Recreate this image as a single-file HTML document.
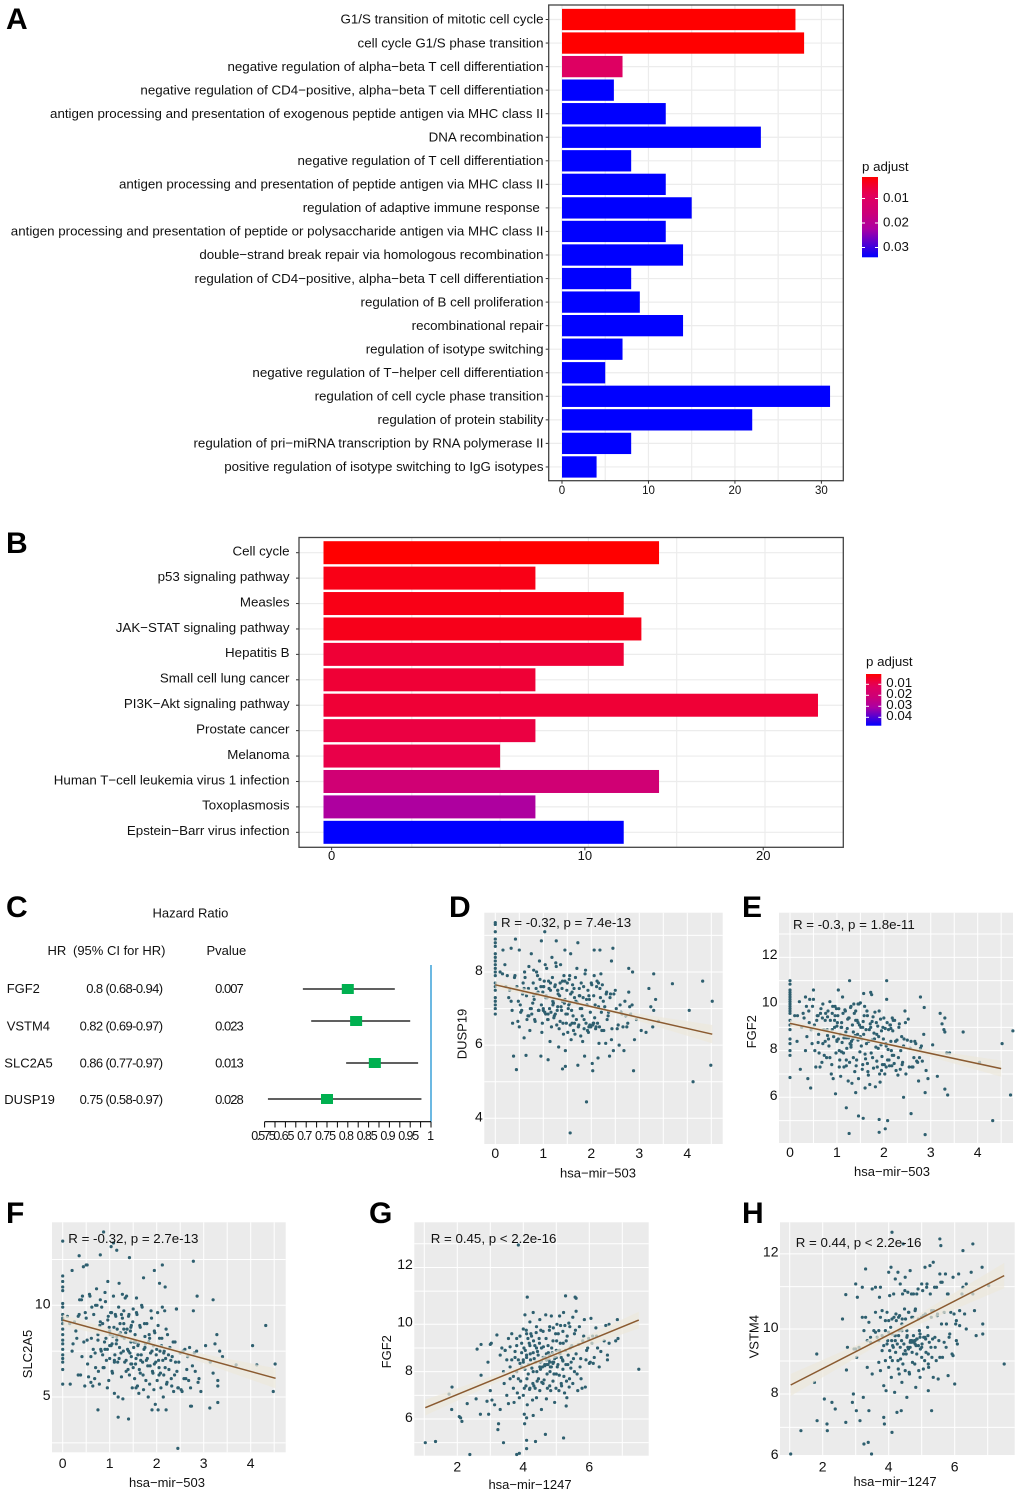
<!DOCTYPE html>
<html lang="en">
<head>
<meta charset="utf-8">
<title>Enrichment, hazard ratio and correlation figure</title>
<style>
html,body{margin:0;padding:0;background:#fff;width:1020px;height:1494px;overflow:hidden}
svg{display:block}
text{font-family:"Liberation Sans",Arial,sans-serif;fill:#111}
.letter{font-size:30px;font-weight:700;fill:#000}
</style>
</head>
<body>
<svg id="fig" xmlns="http://www.w3.org/2000/svg" width="1020" height="1494" viewBox="0 0 1020 1494">
<defs>
<linearGradient id="pgrad" x1="0" y1="0" x2="0" y2="1">
<stop offset="0" stop-color="#ff0000"/><stop offset="0.15" stop-color="#ec0040"/><stop offset="0.25" stop-color="#e00060"/><stop offset="0.45" stop-color="#cc0078"/><stop offset="0.65" stop-color="#aa00a4"/><stop offset="1" stop-color="#0000ff"/>
</linearGradient>
</defs>
<text class="letter" x="6" y="29">A</text>
<text class="letter" x="6" y="553">B</text>
<text class="letter" x="6" y="917">C</text>
<text class="letter" x="449" y="917">D</text>
<text class="letter" x="742" y="917">E</text>
<text class="letter" x="6" y="1223">F</text>
<text class="letter" x="369" y="1223">G</text>
<text class="letter" x="742" y="1223">H</text>
<g id="panelA"></g>
<g id="panelB"></g>
<g id="panelC">
<text x="152.5" y="917.5" font-size="13">Hazard Ratio</text>
<text x="47.5" y="955" font-size="13">HR</text>
<text x="73" y="955" font-size="13">(95% CI for HR)</text>
<text x="206.5" y="955" font-size="13">Pvalue</text>
</g>
<g id="panelD"></g>
<g id="panelE"></g>
<g id="panelF"></g>
<g id="panelG"></g>
<g id="panelH"></g>
</svg>
<script>
// ---------- Panel A data ----------
const aCategories = ["G1/S transition of mitotic cell cycle","cell cycle G1/S phase transition","negative regulation of alpha\u2212beta T cell differentiation","negative regulation of CD4\u2212positive, alpha\u2212beta T cell differentiation","antigen processing and presentation of exogenous peptide antigen via MHC class II","DNA recombination","negative regulation of T cell differentiation","antigen processing and presentation of peptide antigen via MHC class II","regulation of adaptive immune response\u00a0","antigen processing and presentation of peptide or polysaccharide antigen via MHC class II","double\u2212strand break repair via homologous recombination","regulation of CD4\u2212positive, alpha\u2212beta T cell differentiation","regulation of B cell proliferation","recombinational repair","regulation of isotype switching","negative regulation of T\u2212helper cell differentiation","regulation of cell cycle phase transition","regulation of protein stability","regulation of pri\u2212miRNA transcription by RNA polymerase II","positive regulation of isotype switching to IgG isotypes"];
const aCounts = [27,28,7,6,12,23,8,12,15,12,14,8,9,14,7,5,31,22,8,4];
const aPadjust = [0.002,0.002,0.0108,0.0345,0.0345,0.0345,0.0345,0.0345,0.0345,0.0345,0.0345,0.0345,0.0345,0.0345,0.0345,0.0345,0.0345,0.0345,0.0345,0.0345];
const aXTicks = [0,10,20,30];
const aLegendTicks = [0.01,0.02,0.03];

// ---------- Panel B data ----------
const bCategories = ["Cell cycle","p53 signaling pathway","Measles","JAK\u2212STAT signaling pathway","Hepatitis B","Small cell lung cancer","PI3K\u2212Akt signaling pathway","Prostate cancer","Melanoma","Human T\u2212cell leukemia virus 1 infection","Toxoplasmosis","Epstein\u2212Barr virus infection"];
const bCounts = [19,12,17,18,17,12,28,12,10,19,12,17];
const bPadjust = [0.0006,0.003,0.003,0.0035,0.0065,0.0065,0.0065,0.008,0.009,0.02,0.03,0.0476];
const bTickAt = [0.46,14.8,24.9];
const bTickLabels = ["0","10","20"];
const bLegendTicks = [0.01,0.02,0.03,0.04];

// ---------- Panel C data ----------
const forestGenes = ["FGF2","VSTM4","SLC2A5","DUSP19"];
const forestHrText = ["0.8 (0.68-0.94)","0.82 (0.69-0.97)","0.86 (0.77-0.97)","0.75 (0.58-0.97)"];
const forestPText = ["0.007","0.023","0.013","0.028"];
const forestHr = [0.8,0.82,0.865,0.75];
const forestLow = [0.692,0.712,0.796,0.608];
const forestHigh = [0.913,0.95,0.969,0.977];
const forestTickLabels = ["0.575","0.65","0.7","0.75","0.8","0.85","0.9","0.95","1"];
const forestTickValues = [0.6,0.65,0.7,0.75,0.8,0.85,0.9,0.95,1];

// ---------- Scatter data: hsa-mir-503 shared by D, E, F ----------
const mir503X = [0,0,0,0,0,0,0,0,0,0,0,0,0,0,0,0,0,0,0,0,0,
1.03,.96,1.27,.42,1.72,.16,.33,.5,1.45,1.57,2.06,2.18,2.45,2.42,2.78,2.86,3.3,3.69,4.32,4.52,4.04,.38,.44,.64,2.03,1.4,1.46,1.9,1.56,2.88,
.1,.2,.25,.3,.33,.35,.22,.15,.4,.45,
.47,.5,.52,.55,.58,.6,.62,.65,.68,.7,
.72,.75,.78,.8,.82,.85,.88,.9,.92,.95,
.97,.99,1.0,1.02,1.05,1.07,1.08,1.1,1.12,1.14,
1.16,1.18,1.2,1.22,1.24,1.26,1.28,1.3,1.32,1.34,
1.36,1.38,1.4,1.42,1.44,1.46,1.48,1.5,1.52,1.55,
1.58,1.6,1.62,1.64,1.66,1.68,1.7,1.72,1.74,1.76,
1.8,1.82,1.84,1.86,1.88,1.9,1.92,1.95,1.97,2.0,
2.02,2.04,2.06,2.08,2.1,2.12,2.14,2.16,2.18,2.2,
2.22,2.25,2.3,2.32,2.35,2.38,2.4,2.42,2.46,2.5,
2.54,2.58,2.6,2.64,2.68,2.7,2.74,2.78,2.82,2.85,
2.9,2.94,3.04,3.14,3.2,3.24,3.28,3.3,3.34,3.4];
const mir503X2 = [.28,.36,.41,.48,.53,.57,.61,.66,.69,.73,
.76,.79,.81,.83,.86,.89,.91,.93,.96,.98,
1.01,1.03,1.04,1.06,1.09,1.11,1.13,1.15,1.17,1.19,
1.21,1.23,1.25,1.27,1.29,1.31,1.33,1.35,1.37,1.39,
1.41,1.43,1.45,1.47,1.49,1.51,1.53,1.54,1.56,1.57,
1.59,1.61,1.63,1.65,1.67,1.69,1.71,1.73,1.75,1.77,
1.78,1.79,1.81,1.83,1.85,1.87,1.89,1.91,1.93,1.94,
1.96,1.98,1.99,2.01,2.03,2.05,2.07,2.09,2.11,2.13,
2.15,2.17,2.19,2.21,2.23,2.26,2.28,2.31,2.33,2.36,
2.39,2.43,2.47,2.52,2.56,2.62,2.66,2.72,2.76,2.8,
.95,1.0,1.05,1.1,1.15,1.2,1.25,1.3,1.35,1.4,
.75,.85,1.45,1.5,1.55,1.6,.6,.7,.8,.9,
1.0,1.1,1.2,1.3,1.65,1.75,1.85,1.95,2.05,2.15];

const dExtraX = [4.49,4.12];
const dY = [9.35,9.3,9.1,8.9,8.8,8.7,8.5,8.4,8.3,8.2,8.1,8.0,7.9,7.7,7.6,7.5,7.3,7.2,7.1,7.0,6.85,
9.1,8.85,8.85,8.9,8.8,8.6,8.65,8.6,8.6,8.5,8.6,8.6,8.65,8.3,8.1,8.0,7.95,7.68,7.75,7.2,6.95,5.7,5.33,5.72,5.3,5.35,5.42,4.45,3.6,5.3,
8.0,8.2,7.9,7.5,7.2,6.95,7.6,7.95,7.85,7.6,
6.65,6.5,7.1,6.95,7.7,6.2,7.85,7.35,6.8,8.15,
6.4,8.5,7.15,8.05,6.7,7.55,7.9,6.95,8.3,5.7,
6.35,7.45,7.0,7.75,6.85,8.1,7.3,5.6,7.55,6.1,
6.9,8.4,7.2,6.75,7.6,8.25,6.55,7.05,5.95,7.35,
8.2,6.95,7.75,6.3,7.15,5.85,6.6,7.7,7.0,7.9,
6.15,7.45,6.8,7.55,6.3,7.2,8.1,5.45,6.55,7.35,
7.0,6.1,7.6,5.7,8.05,7.25,6.4,7.35,6.55,7.7,
5.5,6.6,7.9,7.1,6.5,7.75,5.65,6.05,7.55,7.95,
6.4,7.2,6.05,7.45,6.8,5.7,7.4,6.15,5.85,7.5,
6.45,6.0,7.1,6.85,5.85,7.2,6.5,7.45,6.85,7.1,
6.15,6.7,6.4,6.35,7.55,7.05,6.5,6.95,7.25,6.65,
5.45,5.0];
const dY2 = [7.3,6.6,7.9,7.2,6.9,7.4,8.0,6.7,7.55,7.0,
6.85,7.7,7.25,6.65,8.0,7.45,6.95,7.8,7.1,6.6,
7.6,6.9,8.2,7.35,6.7,7.75,7.0,7.5,6.5,7.85,
7.15,6.8,7.65,8.15,6.95,7.4,6.45,7.7,7.05,7.55,
6.6,7.9,7.25,6.85,7.5,6.35,7.1,7.8,6.55,7.4,
6.95,7.65,6.4,7.3,7.85,6.7,7.15,6.5,7.55,7.0,
6.25,7.7,6.8,7.3,6.45,7.95,6.6,7.1,7.5,6.35,
7.25,6.9,6.5,7.65,6.55,7.35,6.75,6.45,7.6,6.6,
7.7,6.5,7.3,6.9,7.65,6.4,7.05,7.4,6.7,6.9,
7.3,6.45,7.4,7.0,6.55,6.9,6.5,6.8,6.6,7.05,
7.6,6.95,7.3,6.7,7.7,7.1,6.85,7.5,6.65,7.2,
7.0,7.4,7.75,6.85,7.15,6.6,7.55,6.8,7.35,6.95,
7.6,6.85,7.2,7.5,6.6,7.35,6.7,6.5,6.6,7.05];
const dLine = [7.65,6.3];
const dBand = [0.1,0.03,0.25];

const eExtraX = [4.7,4.75,1.26,1.2,1.9,2.08,2.58,2.88,3.3,3.36];
const eY = [11,10.85,10.6,10.5,10.4,10.3,10.2,10.1,10.0,9.9,9.8,9.7,9.6,9.3,9.1,8.9,8.5,8.3,8.0,7.8,6.85,
10.6,9.9,11.0,10.2,10.5,9.5,10.3,10.6,10.0,10.45,11.0,9.4,9.7,6.0,10.3,9.85,9.4,8.8,5.0,8.3,7.5,6.8,6.4,7.3,4.65,6.2,5.2,5.05,5.1,4.4,
9.5,10.1,9.0,9.4,8.0,9.9,7.2,8.4,9.7,8.9,
8.3,10.2,9.1,7.3,9.5,8.35,7.9,9.6,7.5,10.0,
8.9,9.3,7.7,9.45,8.5,10.1,7.0,9.6,6.8,9.0,
6.15,9.8,8.4,9.5,7.3,8.7,6.9,9.2,10.3,7.9,
8.6,9.7,7.35,8.95,6.7,9.4,8.3,9.9,6.6,8.5,
10.0,7.1,9.3,7.6,8.7,6.8,9.1,10.05,8.2,7.4,
9.5,6.4,8.9,9.7,7.1,8.4,6.55,9.0,10.4,7.7,
8.5,6.45,9.2,7.3,8.1,9.7,6.65,8.85,7.4,9.4,
7.0,8.3,10.2,7.6,8.9,7.35,9.1,8.0,7.8,9.3,
7.45,8.4,6.95,9.0,7.2,8.6,7.5,8.2,9.2,8.45,
7.3,8.4,7.3,7.7,8.3,7.55,6.7,8.1,7.55,8.7,
7.15,6.8,8.25,6.9,9.6,9.15,8.9,8.8,7.9,7.9,
6.1,8.85,4.45,5.55,4.5,5.0,5.3,6.2,6.35,6.1];
const eY2 = [9.6,8.6,9.2,9.9,8.0,9.3,8.7,9.8,9.4,7.8,
9.6,8.9,9.7,8.2,9.3,7.4,9.9,8.6,9.5,7.9,
9.2,8.5,9.8,7.6,9.0,8.35,9.6,7.3,9.75,8.8,
8.1,9.35,8.55,7.5,9.85,8.4,9.1,7.7,9.6,8.65,
7.35,9.3,8.45,10.0,7.95,9.0,8.5,7.2,9.25,8.7,
9.9,7.65,8.3,9.5,6.95,8.9,9.15,7.9,8.45,9.45,
7.25,8.75,9.65,8.15,7.55,9.05,8.6,7.0,9.35,8.25,
7.75,9.0,8.5,7.4,8.95,7.3,9.2,8.05,7.6,9.1,
8.4,7.35,8.85,7.8,9.3,7.15,8.45,7.7,9.15,8.0,
7.4,8.5,7.0,9.35,8.1,7.3,8.4,7.5,7.7,8.2,
9.3,8.45,8.0,9.0,8.55,7.6,9.4,8.15,8.8,9.7,
8.4,7.7,9.2,8.6,9.0,7.85,9.5,8.3,8.65,8.9,
9.05,7.95,8.55,8.25,7.45,9.25,8.7,7.15,8.2,8.95];
const eLine = [9.17,7.23];
const eBand = [0.15,0.05,0.35];

const fExtraX = [4.48,4.13,.87,1.08,1.15,.35,.8,1.42,2.12,.2,.52,1.95,3.2,2.45,1.18,.75,2.2,2.72,3.13,3.3];
const fY = [13.5,11.6,11.3,11,10.8,10.1,9.9,9.5,9.2,9.0,8.7,8.4,8.1,7.9,7.6,7.3,7.1,6.9,6.5,5.7,9.3,
13.2,11.3,10.6,10.5,11.5,5.7,9.4,12.2,6.8,10.4,11.2,11.0,5.5,9.8,12.4,10.5,5.6,6.75,8.9,6.8,7.8,6.2,12.1,5.6,4.3,3.8,8.9,4.3,5.5,5.8,
9.4,7.5,9.1,8.2,6.2,9.5,7.9,9.0,10.3,8.0,
5.6,9.3,8.1,6.1,10.5,7.2,9.9,7.6,6.0,10.0,
10.9,8.4,5.7,10.3,7.5,9.0,6.6,10.7,8.2,5.5,
9.4,8.8,7.1,9.6,6.4,8.3,10.5,5.2,9.5,7.9,
8.7,5.0,11.2,9.0,7.4,8.3,4.9,9.7,6.9,8.5,
10.5,7.6,9.4,6.2,8.6,7.2,5.5,9.8,8.0,6.8,
9.5,7.3,5.2,8.9,7.0,10.0,6.9,5.4,9.0,7.9,
7.1,5.0,8.4,6.7,9.7,7.5,6.3,8.6,4.6,7.6,
9.6,7.0,8.2,6.3,7.8,9.9,5.0,7.5,6.6,8.7,
5.8,7.3,7.0,5.6,8.0,6.2,6.9,9.8,5.5,7.4,
5.3,6.0,7.6,6.5,5.9,7.7,4.5,9.7,6.4,7.5,
6.0,5.3,7.8,6.9,6.3,7.9,8.4,5.9,7.5,7.2,
5.3,6.75,14,13.4,13,12.7,12.75,12.6,12.2,11.9,12.2,11.9,10.3,2.2,3.9,4.3,4.3,4.5,4.4,4.7];
const fY2 = [8.6,10.3,7.2,9.6,6.8,10.6,8.2,9.5,7.4,10.0,
6.4,8.9,7.6,9.9,6.6,8.0,10.2,7.0,9.2,5.9,
8.4,7.8,9.6,6.3,8.8,7.3,9.4,8.1,6.9,9.9,
7.7,8.5,6.1,9.3,7.5,8.2,10.4,7.0,8.7,6.5,
9.5,7.4,8.0,6.8,9.1,7.7,6.0,8.4,7.1,9.6,
5.6,7.9,6.5,8.8,7.3,9.9,6.2,7.6,8.3,5.9,
7.0,9.0,6.7,8.0,5.7,7.4,9.3,6.4,7.8,5.4,
8.5,6.9,7.3,5.9,8.9,6.6,7.5,5.5,8.2,7.0,
6.2,9.7,7.1,5.7,8.4,6.5,7.7,6.0,7.2,5.3,
8.0,6.4,6.9,5.4,7.5,6.0,7.2,5.5,6.7,7.4,
7.6,8.6,7.9,6.9,8.3,7.1,9.5,8.7,6.4,7.5,
8.1,7.3,8.8,6.6,8.0,7.8,5.8,6.6,9.1,7.6,
7.8,7.0,8.4,9.0,6.3,7.7,8.2,6.8,6.2,7.4];
const fLine = [9.2,6.02];
const fBand = [0.3,0.1,0.55];

// ---------- Scatter data: hsa-mir-1247 ----------
const gX = [1.03,1.34,1.75,1.84,1.83,2.06,2.1,2.14,2.3,2.38,2.6,2.72,2.57,2.7,2.72,2.9,2.93,2.95,3.05,3.03,3.0,3.13,3.2,3.0,3.3,3.23,3.25,3.4,3.8,3.88,4.1,4.1,4.37,4.04,4.03,4.1,4.3,4.67,5.22,7.5,4.12,5.28,5.57,5.6,3.85,6.85,6.87,6.8,6.6,6.55,
3.3,3.35,3.4,3.42,3.45,3.5,3.5,3.55,3.55,3.6,3.6,3.65,3.65,3.7,3.72,3.75,3.8,3.8,3.82,3.85,3.88,3.9,3.92,3.95,3.95,
4.0,4.0,4.02,4.05,4.05,4.08,4.1,4.1,4.12,4.15,4.18,4.2,4.2,4.22,4.25,4.28,4.3,4.3,4.32,4.35,4.38,4.4,4.4,4.42,4.45,4.48,
4.5,4.5,4.52,4.55,4.55,4.6,4.6,4.62,4.65,4.68,4.7,4.72,4.75,4.78,4.8,4.8,4.82,4.85,4.88,4.9,4.9,4.92,4.95,4.98,
5.0,5.0,5.02,5.05,5.08,5.1,5.12,5.15,5.15,5.2,5.2,5.22,5.25,5.28,5.3,5.3,5.32,5.35,5.38,5.4,5.42,5.45,5.5,5.5,5.55,5.55,5.6,5.6,5.65,5.7,5.72,5.75,5.8,5.85,5.88,5.9,5.95,
6.0,6.05,6.1,6.12,6.2,6.25,6.3,6.35,6.45,6.5,6.6,6.55];
const gY = [5.0,5.05,7.05,7.35,6.4,6.1,6.05,5.9,6.65,4.5,8.95,9.15,6.85,6.2,7.85,6.75,8.4,6.2,6.8,9.2,9.15,6.6,9.55,7.2,6.4,5.55,5.8,5.0,4.5,4.55,4.75,5.1,5.05,5.8,6.2,6.05,6.15,5.35,5.2,8.1,11.15,11.2,11.15,11.1,13.35,10.2,9.4,9.3,10.0,8.5,
8.7,9.0,8.0,7.5,8.9,7.0,8.5,6.65,9.4,8.2,7.7,9.6,8.5,7.3,6.7,8.85,8.0,9.1,7.1,8.5,6.9,9.5,7.6,8.8,8.2,
9.8,7.0,9.0,8.1,10.4,7.4,8.7,9.6,6.6,7.9,9.2,7.3,10.1,8.5,9.5,6.8,10.5,8.0,7.4,9.1,8.4,6.9,9.9,7.6,8.7,9.4,
7.2,10.2,8.1,6.4,9.0,7.5,9.7,8.6,8.3,10.4,6.85,7.9,9.1,8.5,9.9,7.4,8.2,10.35,8.8,7.6,9.3,8.4,6.7,9.6,
7.9,8.9,10.0,8.3,7.2,10.35,9.2,8.6,7.5,9.7,8.1,10.5,7.1,8.9,6.55,9.3,6.9,8.3,10.05,7.7,9.0,8.4,10.3,7.5,9.6,8.0,10.55,8.75,7.2,9.9,8.2,7.7,9.3,10.2,7.35,8.5,9.0,
8.35,10.25,9.5,8.35,9.85,9.0,8.2,8.85,9.3,9.95,9.2,8.7];
const mir1247X2 = [3.45,3.6,3.7,3.75,3.8,3.85,3.9,3.95,4.0,4.03,
4.06,4.09,4.11,4.14,4.16,4.19,4.21,4.23,4.26,4.29,
4.31,4.33,4.36,4.39,4.41,4.43,4.46,4.49,4.51,4.53,
4.56,4.58,4.61,4.63,4.66,4.69,4.71,4.73,4.76,4.79,
4.81,4.83,4.86,4.89,4.91,4.93,4.96,4.99,5.01,5.03,
5.06,5.09,5.11,5.13,5.16,5.19,5.21,5.23,5.26,5.29,
5.31,5.33,5.36,5.39,5.41,5.44,5.47,5.52,5.58,5.63,
5.68,5.74,5.78,5.83,5.92,5.98,6.03,6.08,6.15,6.22,
4.7,4.75,4.8,4.85,4.6,4.65,4.9,4.95,4.5,4.55,
4.7,4.8,5.0,5.1,5.2,4.4,4.3,4.2,4.1,4.0];
const gY2 = [8.9,9.05,7.8,8.6,9.4,7.7,8.35,9.2,8.5,7.3,
8.9,9.75,7.7,9.4,8.3,7.25,8.75,9.6,8.15,7.5,
9.3,8.55,7.3,9.65,8.0,8.85,7.7,9.2,8.4,9.75,
7.55,8.2,9.05,7.65,8.6,9.4,8.3,7.3,8.8,9.75,
8.0,7.2,9.0,8.4,9.85,7.9,8.6,7.3,9.3,8.2,
9.6,7.85,8.75,9.95,7.4,8.5,9.2,7.8,9.95,8.3,
7.6,9.5,8.7,7.35,9.9,8.15,9.1,8.55,9.75,7.9,
9.15,8.55,7.3,9.5,8.9,9.4,8.4,9.2,8.6,9.5,
8.5,8.3,8.4,8.2,8.6,8.25,8.35,8.55,8.2,8.45,
8.75,8.7,8.6,8.9,8.45,9.0,8.8,9.1,8.6,8.4];
const gLine = [6.48,10.18];
const gBand = [0.33,0.1,0.35];

const hX = [1.03,1.34,1.75,1.82,1.83,2.05,2.13,2.14,2.28,2.38,2.6,2.7,2.72,2.7,2.75,2.9,2.93,2.95,3.0,3.0,3.02,3.05,3.03,3.1,3.13,3.2,3.23,3.25,3.3,3.38,3.4,3.48,4.1,4.1,4.44,5.55,5.58,6.55,6.25,7.5,7.03,6.83,6.85,6.85,6.6,6.65,5.3,6.0,5.2,
3.2,3.25,3.3,3.35,3.35,3.4,3.45,3.5,3.5,3.55,3.6,3.6,3.65,3.7,3.7,3.75,3.72,3.75,3.8,3.8,3.85,3.85,3.87,3.9,3.9,3.92,3.95,3.97,
4.0,4.0,4.03,4.05,4.07,4.08,4.1,4.12,4.15,4.18,4.2,4.2,4.22,4.25,4.28,4.28,4.3,4.32,4.35,4.35,4.38,4.4,4.4,4.42,4.45,4.48,
4.5,4.5,4.55,4.55,4.58,4.6,4.62,4.65,4.65,4.7,4.72,4.75,4.78,4.8,4.82,4.85,4.85,4.9,4.95,4.95,
5.0,5.0,5.05,5.05,5.1,5.12,5.15,5.18,5.2,5.25,5.28,5.3,5.35,5.35,5.4,5.45,5.48,5.5,5.55,5.55,5.6,5.62,5.68,5.72,5.75,5.8,5.8,5.85,5.88,5.95,5.95,
6.05,6.05,6.12,6.15,6.25,6.3,6.35,6.35,6.55,6.5];
const hY = [6.2,6.9,8.35,9.2,7.2,7.85,7.1,6.9,7.75,7.55,10.25,10.98,8.72,7.15,9.4,7.75,8.0,9.35,9.35,11.3,7.5,10.9,9.1,9.4,7.2,11.2,7.9,6.5,11.75,6.55,7.5,6.2,12.85,6.85,12.5,12.65,12.45,12.5,12.3,8.9,11.25,11.8,10.1,9.8,10.5,9.75,7.5,8.3,8.1,
10.3,9.9,10.3,9.6,8.8,10.15,9.55,8.6,11.15,9.9,11.2,10.45,9.7,9.9,8.95,11.2,10.9,8.7,10.5,9.3,8.25,7.3,7.1,10.2,9.0,8.1,10.45,9.6,
8.8,11.65,10.95,9.1,11.8,8.5,10.25,9.45,11.0,8.05,9.75,11.45,10.4,7.45,9.0,11.65,10.3,8.6,11.3,9.4,7.5,10.1,8.35,11.0,9.2,10.55,
8.7,11.5,7.9,9.9,11.05,10.45,8.65,9.4,11.7,10.3,8.95,11.0,9.6,10.5,8.2,9.2,11.0,10.25,8.5,9.7,
11.3,9.1,10.35,8.75,11.8,9.65,11.2,10.0,8.9,11.85,9.4,10.5,11.95,8.5,9.7,11.2,10.4,8.45,11.6,9.1,10.1,11.35,9.55,11.6,10.1,8.55,11.0,9.8,10.45,11.5,9.15,
9.6,10.2,11.6,10.05,11.2,10.4,11.3,9.95,11.0,11.65];
const hY2 = [9.7,9.85,9.6,10.3,9.75,9.45,9.9,9.5,10.2,9.3,
10.0,9.6,9.0,9.4,10.3,9.75,9.25,10.2,9.5,8.75,
9.9,10.35,9.05,9.6,10.25,8.9,9.5,11.1,10.25,9.2,
9.75,9.4,10.45,8.6,9.6,11.0,9.25,10.3,9.55,8.9,
10.55,9.45,9.65,11.15,8.7,9.9,9.35,10.3,9.5,11.1,
9.7,9.0,10.4,9.25,11.3,9.75,8.8,9.55,11.0,10.3,
9.1,9.65,10.5,11.2,9.4,9.0,10.35,9.6,11.35,9.1,
10.45,9.4,11.0,9.7,9.2,10.4,10.1,9.5,10.5,11.0,
9.6,9.75,9.5,9.65,9.35,9.55,9.45,9.8,9.3,9.7,
9.55,9.6,9.4,9.7,9.2,9.9,9.75,9.6,9.8,9.85];
const hLine = [8.27,11.55];
const hBand = [0.33,0.1,0.38];

// ---------- Helpers ----------
const NS = "http://www.w3.org/2000/svg";
function mk(parent, tagName, attrs, text) {
  const el = document.createElementNS(NS, tagName);
  for (const k in attrs) el.setAttribute(k, attrs[k]);
  if (text !== undefined) el.textContent = text;
  parent.appendChild(el);
  return el;
}
function tag(el, name) {
  
  
  return el;
}
function linear(d0, d1, r0, r1) {
  const f = v => r0 + (v - d0) * (r1 - r0) / (d1 - d0);
  return f;
}
const colorStops = [[0,[255,0,0]],[0.15,[236,0,64]],[0.25,[224,0,96]],[0.45,[204,0,120]],[0.65,[170,0,164]],[1,[0,0,255]]];
function pColor(t) {
  t = Math.max(0, Math.min(1, t));
  for (let i = 1; i < colorStops.length; i++) {
    if (t <= colorStops[i][0]) {
      const a = colorStops[i-1], b = colorStops[i], u = (t - a[0]) / (b[0] - a[0]);
      const c = a[1].map((v, j) => Math.round(v + (b[1][j] - v) * u));
      return "rgb(" + c.join(",") + ")";
    }
  }
  return "rgb(0,0,255)";
}

// ---------- Bar panels ----------
function barPanel(o) {
  const root = document.getElementById(o.id);
  const grid = tag(mk(root, 'g', {}), 'gridlines');
  o.gridX.forEach(v => {
    const gl = mk(grid, 'line', {x1:o.xs(v), x2:o.xs(v), y1:o.top, y2:o.bottom, stroke:'#ececec', 'stroke-width':1.2});
    tag(gl, 'vertical-gridline');
  });
  o.categories.forEach((c, i) => {
    const y = o.rowY(i);
    const gl = mk(grid, 'line', {x1:o.left, x2:o.right, y1:y, y2:y, stroke:'#ececec', 'stroke-width':1.2});
    tag(gl, 'horizontal-gridline');
  });
  o.categories.forEach((c, i) => {
    const y = o.rowY(i);
    const bar = mk(root, 'rect', {x:o.xs(0), y:y - o.barH / 2, width:o.xs(o.counts[i]) - o.xs(0), height:o.barH, fill:pColor((o.padjust[i] - o.pMin) / (o.pMax - o.pMin))});
    tag(bar, 'bar');
    const tick = mk(root, 'line', {x1:o.left - 3, x2:o.left, y1:y, y2:y, stroke:'#333', 'stroke-width':1});
    tag(tick, 'y-tick');
    const label = mk(root, 'text', {x:o.labelX, y:y + o.labelDy, 'text-anchor':'end', 'font-size':o.labelSize}, c);
    tag(label, 'category-label');
  });
  const frame = mk(root, 'rect', {x:o.left, y:o.top, width:o.right - o.left, height:o.bottom - o.top, fill:'none', stroke:'#444', 'stroke-width':1.3});
  tag(frame, 'plot-border');
  o.tickAt.forEach((v, i) => {
    const x = o.xs(v);
    const tick = mk(root, 'line', {x1:x, x2:x, y1:o.bottom, y2:o.bottom + 3, stroke:'#333', 'stroke-width':1});
    tag(tick, 'x-tick');
    const label = mk(root, 'text', {x:x, y:o.tickBase, 'text-anchor':'middle', 'font-size':o.tickSize}, o.tickLabels[i]);
    tag(label, 'x-tick-label');
  });
  // legend
  const lg = tag(mk(root, 'g', {}), 'p-adjust-legend');
  tag(mk(lg, 'text', {x:o.legX, y:o.legTitleY, 'font-size':13.3}, 'p adjust'), 'legend-title');
  tag(mk(lg, 'rect', {x:o.legX, y:o.legTop, width:o.legW, height:o.legBottom - o.legTop, fill:'url(#pgrad)'}), 'legend-colorbar');
  const ls = linear(o.legA[0], o.legB[0], o.legA[1], o.legB[1]);
  o.legendTicks.forEach(v => {
    const y = ls(v);
    tag(mk(lg, 'line', {x1:o.legX, x2:o.legX + 3, y1:y, y2:y, stroke:'#fff', 'stroke-width':1}), 'legend-tick');
    tag(mk(lg, 'line', {x1:o.legX + o.legW - 3, x2:o.legX + o.legW, y1:y, y2:y, stroke:'#fff', 'stroke-width':1}), 'legend-tick');
    tag(mk(lg, 'text', {x:o.legX + o.legW + 5, y:y + o.legDy, 'font-size':13.3}, v.toFixed(2)), 'legend-label');
  });
}

barPanel({id:'panelA', categories:aCategories, counts:aCounts, padjust:aPadjust, pMin:0.002, pMax:0.0345,
  left:548.7, right:843.3, top:5, bottom:480.7, barH:21.3,
  xs:linear(0,30,562,821.4), rowY:i => 19.5 + i * 23.55,
  gridX:[0,5,10,15,20,25,30], tickAt:aXTicks, tickLabels:aXTicks.map(String), tickBase:494, tickSize:11.5,
  labelX:543.5, labelDy:4.2, labelSize:13.33,
  legX:862, legW:16, legTitleY:171, legTop:177, legBottom:257.3, legendTicks:aLegendTicks,
  legA:[0.01,198.5], legB:[0.03,247.5], legDy:3.5});

barPanel({id:'panelB', categories:bCategories, counts:bCounts, padjust:bPadjust, pMin:0.0006, pMax:0.0476,
  left:299, right:843.3, top:537.5, bottom:847.3, barH:23,
  xs:linear(0,5,323.5,411.8), rowY:i => 552.7 + i * 25.42,
  gridX:[5,10,15,20,25], tickAt:bTickAt, tickLabels:bTickLabels, tickBase:860, tickSize:13,
  labelX:289.5, labelDy:2.8, labelSize:13.33,
  legX:866, legW:15.3, legTitleY:666, legTop:674, legBottom:725.7, legendTicks:bLegendTicks,
  legA:[0.01,684.3], legB:[0.04,717.3], legDy:2.5});

// ---------- Forest plot ----------
(function () {
  const root = document.getElementById('panelC');
  const xs = linear(0.6, 1, 264.6, 431);
  const textBase = [993, 1030.5, 1067.5, 1104];
  const markY = [989, 1021, 1063, 1099];
  const geneX = [6.7, 6.7, 4.3, 4.3];
  forestGenes.forEach((g, i) => {
    tag(mk(root, 'text', {x:geneX[i], y:textBase[i], 'font-size':13}, g), 'gene-label');
    tag(mk(root, 'text', {x:162.5, y:textBase[i], 'text-anchor':'end', 'font-size':13, 'letter-spacing':-0.6}, forestHrText[i]), 'hr-ci-value');
    tag(mk(root, 'text', {x:242.7, y:textBase[i], 'text-anchor':'end', 'font-size':13, 'letter-spacing':-1}, forestPText[i]), 'p-value');
    tag(mk(root, 'line', {x1:xs(forestLow[i]), x2:xs(forestHigh[i]), y1:markY[i], y2:markY[i], stroke:'#000', 'stroke-width':1.3}), 'ci-line');
    tag(mk(root, 'rect', {x:xs(forestHr[i]) - 6, y:markY[i] - 5, width:12, height:10, fill:'#00b050'}), 'hr-marker');
  });
  tag(mk(root, 'line', {x1:431, x2:431, y1:965, y2:1121.7, stroke:'#2e9bd6', 'stroke-width':1.4}), 'reference-line');
  tag(mk(root, 'line', {x1:xs(0.6), x2:xs(1), y1:1121.7, y2:1121.7, stroke:'#000', 'stroke-width':1.1}), 'x-axis');
  for (let i = 0; i <= 16; i++) {
    const x = xs(1 - i * 0.025);
    tag(mk(root, 'line', {x1:x, x2:x, y1:1121.7, y2:1127.5, stroke:'#000', 'stroke-width':1}), 'x-tick');
  }
  forestTickValues.forEach((v, i) => {
    const cx = v === 1 ? xs(v) - 1 : xs(v) - 2;
    tag(mk(root, 'text', {x:cx, y:1140, 'text-anchor':'middle', 'font-size':12.5, 'letter-spacing':i === 0 ? -1.7 : -1.1}, forestTickLabels[i]), 'x-tick-label');
  });
})();

// ---------- Scatter panels ----------
function scatter(o) {
  const root = document.getElementById(o.id);
  tag(mk(root, 'rect', {x:o.px[0], y:o.py[0], width:o.px[1] - o.px[0], height:o.py[1] - o.py[0], fill:'#ebebeb'}), 'panel-background');
  const grid = tag(mk(root, 'g', {}), 'gridlines');
  o.gridX.forEach(v => tag(mk(grid, 'line', {x1:o.xs(v), x2:o.xs(v), y1:o.py[0], y2:o.py[1], stroke:'#fff', 'stroke-width':1}), 'vertical-gridline'));
  o.gridY.forEach(v => tag(mk(grid, 'line', {x1:o.px[0], x2:o.px[1], y1:o.ys(v), y2:o.ys(v), stroke:'#fff', 'stroke-width':1}), 'horizontal-gridline'));
  const pts = tag(mk(root, 'g', {fill:'#2e5f6f'}), 'points');
  const n = Math.min(o.x.length, o.y.length);
  for (let i = 0; i < n; i++) {
    const cx = o.xs(o.x[i]), cy = o.ys(o.y[i]);
    if (cx > o.px[1] || cy < o.py[0] || cy > o.py[1]) continue;
    tag(mk(pts, 'circle', {cx:cx, cy:cy, r:1.6}), 'point');
  }
  const x0 = o.lineX[0], x1 = o.lineX[1], xm = (x0 + x1) / 2, ym = (o.line[0] + o.line[1]) / 2;
  const poly = [[x0, o.line[0] + o.band[0]],[xm, ym + o.band[1]],[x1, o.line[1] + o.band[2]],[x1, o.line[1] - o.band[2]],[xm, ym - o.band[1]],[x0, o.line[0] - o.band[0]]];
  tag(mk(root, 'polygon', {points:poly.map(p => o.xs(p[0]) + ',' + o.ys(p[1])).join(' '), fill:'#ece8dc', opacity:0.7}), 'confidence-band');
  tag(mk(root, 'line', {x1:o.xs(x0), y1:o.ys(o.line[0]), x2:o.xs(x1), y2:o.ys(o.line[1]), stroke:'#8a5a30', 'stroke-width':1.5}), 'regression-line');
  tag(mk(root, 'text', {x:o.statX, y:o.statY + 4.5, 'font-size':13.3}, o.stat), 'correlation-annotation');
  o.xTicks.forEach(v => tag(mk(root, 'text', {x:o.xs(v), y:o.xTickBase, 'text-anchor':'middle', 'font-size':14}, String(v)), 'x-tick-label'));
  o.yTickAt.forEach((v, i) => {
    const y = o.ys(v);
    tag(mk(root, 'text', {x:o.px[0] - 1.5, y:y + 4.8, 'text-anchor':'end', 'font-size':14}, o.yTickLabels[i]), 'y-tick-label');
  });
  tag(mk(root, 'text', {x:o.xTitle[0], y:o.xTitle[1] + 4.5, 'text-anchor':'middle', 'font-size':13}, o.xLabel), 'x-axis-title');
  tag(mk(root, 'text', {x:o.yTitle[0], y:o.yTitle[1], 'text-anchor':'middle', 'font-size':13, transform:'rotate(-90 ' + o.yTitle[0] + ' ' + o.yTitle[1] + ')', dy:4.5}, o.yLabel), 'y-axis-title');
}

scatter({id:'panelD', x:mir503X.concat(dExtraX, mir503X2), y:dY.concat(dY2), line:dLine, band:dBand, lineX:[0,4.52],
  px:[484.3,722.7], py:[912.7,1144], xs:linear(0,4,495.3,687.3), ys:linear(4,8,1118.3,972),
  gridX:[0,.5,1,1.5,2,2.5,3,3.5,4,4.5], gridY:[4,5,6,7,8,9], xTicks:[0,1,2,3,4], yTickAt:[4.05,6.05,8.05], yTickLabels:["4","6","8"],
  xTickBase:1158, xTitle:[598,1173], yTitle:[462,1034], xLabel:"hsa\u2212mir\u2212503", yLabel:"DUSP19", stat:"R = -0.32, p = 7.4e-13", statX:501, statY:922.7});

scatter({id:'panelE', x:mir503X.concat(eExtraX, mir503X2), y:eY.concat(eY2), line:eLine, band:eBand, lineX:[0,4.5],
  px:[779,1013], py:[912.7,1143], xs:linear(0,4,790,977.7), ys:linear(6,10,1097.3,1004),
  gridX:[0,.5,1,1.5,2,2.5,3,3.5,4,4.5], gridY:[5,6,7,8,9,10,11,12,13], xTicks:[0,1,2,3,4], yTickAt:[6.1,8.1,10.1,12.13], yTickLabels:["6","8","10","12"],
  xTickBase:1157, xTitle:[892,1171.7], yTitle:[751.7,1031.7], xLabel:"hsa\u2212mir\u2212503", yLabel:"FGF2", stat:"R = -0.3, p = 1.8e-11", statX:793, statY:924.3});

scatter({id:'panelF', x:mir503X.concat(fExtraX, mir503X2), y:fY.concat(fY2), line:fLine, band:fBand, lineX:[0,4.53],
  px:[52,285.7], py:[1222.3,1452.3], xs:linear(0,4,62.7,250.7), ys:linear(5,10,1397,1305.3),
  gridX:[0,.5,1,1.5,2,2.5,3,3.5,4,4.5], gridY:[2.5,5,7.5,10,12.5], xTicks:[0,1,2,3,4], yTickAt:[5.1,10.1], yTickLabels:["5","10"],
  xTickBase:1468, xTitle:[167,1482.3], yTitle:[27.3,1354], xLabel:"hsa\u2212mir\u2212503", yLabel:"SLC2A5", stat:"R = -0.32, p = 2.7e-13", statX:68.3, statY:1238.3});

scatter({id:'panelG', x:gX.concat(mir1247X2), y:gY.concat(gY2), line:gLine, band:gBand, lineX:[1.03,7.5],
  px:[414.3,648.7], py:[1222.3,1455.7], xs:linear(2,6,457.3,589.3), ys:linear(6,10,1419,1324.3),
  gridX:[1,2,3,4,5,6,7], gridY:[5,6,7,8,9,10,11.4,12.4,13.4], xTicks:[2,4,6], yTickAt:[6.07,8.07,10.1,12.54], yTickLabels:["6","8","10","12"],
  xTickBase:1471.5, xTitle:[530,1484.3], yTitle:[386.7,1351.7], xLabel:"hsa\u2212mir\u22121247", yLabel:"FGF2", stat:"R = 0.45, p < 2.2e-16", statX:430.7, statY:1238.3});

scatter({id:'panelH', x:hX.concat(mir1247X2), y:hY.concat(hY2), line:hLine, band:hBand, lineX:[1.03,7.5],
  px:[780,1014.7], py:[1222.3,1455], xs:linear(2,6,822.7,954.7), ys:linear(8,10,1394,1327.3),
  gridX:[1,2,3,4,5,6,7], gridY:[7,8,8.99,9.95,11.22,12.2], xTicks:[2,4,6], yTickAt:[6.19,8.05,10,12.27], yTickLabels:["6","8","10","12"],
  xTickBase:1471.5, xTitle:[895,1481.7], yTitle:[754,1336.7], xLabel:"hsa\u2212mir\u22121247", yLabel:"VSTM4", stat:"R = 0.44, p < 2.2e-16", statX:795.7, statY:1242.3});
</script>
</body>
</html>
